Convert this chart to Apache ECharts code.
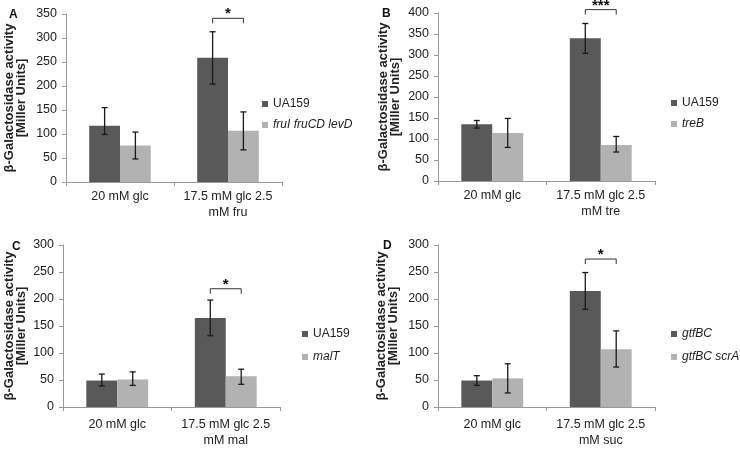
<!DOCTYPE html>
<html>
<head>
<meta charset="utf-8">
<script src="https://cdn.jsdelivr.net/npm/echarts@6/dist/echarts.min.js"></script>
<style>
html,body{margin:0;padding:0;background:#fff;}
#chart{width:740px;height:449px;}
</style>
</head>
<body>
<div id="chart"></div>
<script>
// ---- data ----
const catsA = ['20 mM glc', '17.5 mM glc 2.5\nmM fru'];
const catsB = ['20 mM glc', '17.5 mM glc 2.5\nmM tre'];
const catsC = ['20 mM glc', '17.5 mM glc 2.5\nmM mal'];
const catsD = ['20 mM glc', '17.5 mM glc 2.5\nmM suc'];

const namesA = ['UA159', 'fruI fruCD levD'];
const namesB = ['UA159', 'treB'];
const namesC = ['UA159', 'malT'];
const namesD = ['gtfBC', 'gtfBC scrA'];

const darkA = [117, 259];
const lightA = [76, 107];
const darkErrA = [[99, 155], [204, 313]];
const lightErrA = [[48, 104], [67, 146]];

const darkB = [135, 340];
const lightB = [114, 86];
const darkErrB = [[126, 144], [304, 375]];
const lightErrB = [[80, 149], [69, 106]];

const darkC = [49, 165];
const lightC = [51, 57];
const darkErrC = [[39, 61], [132, 198]];
const lightErrC = [[40, 65], [42, 70]];

const darkD = [49, 215];
const lightD = [53, 107];
const darkErrD = [[40, 58], [181, 249]];
const lightErrD = [[26, 80], [74, 141]];

const yMaxes = [350, 400, 300, 300];
const yTickStep = 50;
const sigLabels = ['*', '***', '*', '*'];
const bracketTops = [341, 408, 219, 274];
const panelLetters = ['A', 'B', 'C', 'D'];

// ---- build ----
const DARK = '#595959', LIGHT = '#b2b2b2', TXT = '#222', AX = '#999';
const FONT = '"Liberation Sans", Arial, sans-serif';
const GAP = 0.43;

const panels = [
  {cats: catsA, names: namesA, dark: darkA, light: lightA, dErr: darkErrA, lErr: lightErrA,
   grid: {left: 66, top: 14, width: 216, height: 168}, nameGap: 38, labMargin: 7,
   legend: {left: 262, top: 97, gap: 7}, letter: [13, 15], italic: [false, true]},
  {cats: catsB, names: namesB, dark: darkB, light: lightB, dErr: darkErrB, lErr: lightErrB,
   grid: {left: 438, top: 13, width: 217, height: 168}, nameGap: 36, labMargin: 7,
   legend: {left: 671, top: 96, gap: 7}, letter: [386, 14], italic: [false, true]},
  {cats: catsC, names: namesC, dark: darkC, light: lightC, dErr: darkErrC, lErr: lightErrC,
   grid: {left: 63, top: 245, width: 217, height: 168}, nameGap: 35, labMargin: 10,
   legend: {left: 302, top: 327, gap: 9}, letter: [16, 247], italic: [false, true]},
  {cats: catsD, names: namesD, dark: darkD, light: lightD, dErr: darkErrD, lErr: lightErrD,
   grid: {left: 438, top: 245, width: 217, height: 168}, nameGap: 38, labMargin: 10,
   legend: {left: 671, top: 327, gap: 9}, letter: [387, 246], italic: [true, true]}
];

function errRender(side) {
  return function (params, api) {
    const cat = api.value(0), lo = api.value(1), hi = api.value(2);
    const w = api.size([1, 0])[0];
    const off = side * w * (1 - GAP) / 4;
    const p1 = api.coord([cat, lo]), p2 = api.coord([cat, hi]);
    const x = p1[0] + off;
    const st = {stroke: '#1a1a1a', lineWidth: 1.3};
    return {type: 'group', children: [
      {type: 'line', shape: {x1: x, y1: p1[1], x2: x, y2: p2[1]}, style: st},
      {type: 'line', shape: {x1: x - 3, y1: p1[1], x2: x + 3, y2: p1[1]}, style: st},
      {type: 'line', shape: {x1: x - 3, y1: p2[1], x2: x + 3, y2: p2[1]}, style: st}
    ]};
  };
}

function bracketRender(label) {
  return function (params, api) {
    const cat = api.value(0), v = api.value(1);
    const w = api.size([1, 0])[0];
    const off = w * (1 - GAP) / 4;
    const p = api.coord([cat, v]);
    const x1 = p[0] - off, x2 = p[0] + off, y = p[1];
    const st = {stroke: '#333', lineWidth: 1};
    return {type: 'group', children: [
      {type: 'polyline', shape: {points: [[x1, y + 5], [x1, y], [x2, y], [x2, y + 5]]}, style: Object.assign({fill: null}, st)},
      {type: 'text', x: p[0], y: y - 4, style: {text: label, fill: '#111', font: 'bold 15px ' + FONT, align: 'center', verticalAlign: 'middle'}}
    ]};
  };
}

const option = {
  animation: false,
  backgroundColor: '#fff',
  textStyle: {fontFamily: FONT},
  grid: [], xAxis: [], yAxis: [], series: [], legend: [],
  graphic: []
};

panels.forEach((p, i) => {
  option.grid.push(Object.assign({containLabel: false}, p.grid));
  option.xAxis.push({
    type: 'category', gridIndex: i, data: p.cats,
    axisLine: {lineStyle: {color: AX, width: 1}},
    axisTick: {show: true, length: 4, lineStyle: {color: AX}},
    axisLabel: {interval: 0, color: TXT, fontSize: 12.5, lineHeight: 16, margin: p.labMargin, fontFamily: FONT},
    splitLine: {show: false}
  });
  option.yAxis.push({
    type: 'value', gridIndex: i, min: 0, max: yMaxes[i], interval: yTickStep,
    name: 'β-Galactosidase activity\n[Miller Units]',
    nameLocation: 'middle', nameGap: p.nameGap, nameRotate: 90,
    nameTextStyle: {fontWeight: 'bold', fontSize: 13, lineHeight: 12.5, color: TXT, fontFamily: FONT},
    axisLine: {show: true, lineStyle: {color: AX, width: 1}},
    axisTick: {show: true, length: 4, lineStyle: {color: AX}},
    axisLabel: {color: TXT, fontSize: 12.5, margin: 9, fontFamily: FONT},
    splitLine: {show: false}
  });
  option.series.push({
    type: 'bar', name: p.names[0], xAxisIndex: i, yAxisIndex: i, data: p.dark,
    barGap: '0%', barCategoryGap: (GAP * 100) + '%',
    itemStyle: {color: DARK}, z: 2
  });
  option.series.push({
    type: 'bar', name: p.names[1], xAxisIndex: i, yAxisIndex: i, data: p.light,
    barGap: '0%', barCategoryGap: (GAP * 100) + '%',
    itemStyle: {color: LIGHT}, z: 2
  });
  option.series.push({
    type: 'custom', xAxisIndex: i, yAxisIndex: i, renderItem: errRender(-1),
    data: p.dErr.map((e, k) => [k, e[0], e[1]]), z: 5, silent: true
  });
  option.series.push({
    type: 'custom', xAxisIndex: i, yAxisIndex: i, renderItem: errRender(1),
    data: p.lErr.map((e, k) => [k, e[0], e[1]]), z: 5, silent: true
  });
  option.series.push({
    type: 'custom', xAxisIndex: i, yAxisIndex: i, renderItem: bracketRender(sigLabels[i]),
    data: [[1, bracketTops[i]]], clip: false, z: 5, silent: true
  });
  option.legend.push({
    orient: 'vertical', left: p.legend.left, top: p.legend.top, padding: 0,
    icon: 'rect', itemWidth: 6, itemHeight: 6, itemGap: p.legend.gap,
    selectedMode: false,
    textStyle: {color: TXT, fontSize: 12, lineHeight: 14, fontFamily: FONT},
    data: p.names.map((n, k) => ({name: n, textStyle: {fontStyle: p.italic[k] ? 'italic' : 'normal'}}))
  });
  option.graphic.push({
    type: 'text', left: p.letter[0] - 4, top: p.letter[1] - 6,
    style: {text: panelLetters[i], font: 'bold 12px ' + FONT, fill: '#111'}
  });
});

const chart = echarts.init(document.getElementById('chart'), null, {renderer: 'canvas'});
chart.setOption(option);
</script>
</body>
</html>
